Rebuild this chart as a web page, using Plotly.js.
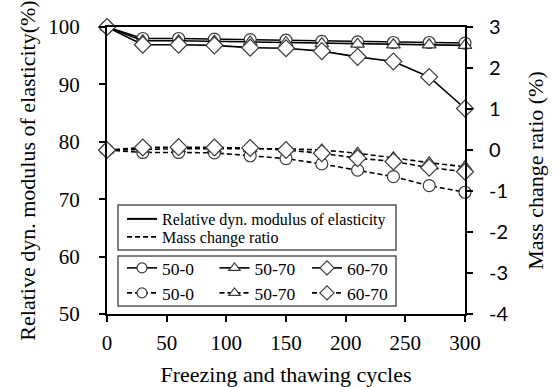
<!DOCTYPE html>
<html><head><meta charset="utf-8">
<script src="https://cdn.plot.ly/plotly-3.0.1.min.js"></script>
<style>html,body{margin:0;padding:0;background:#fff}</style>
</head><body><div id="chart" style="width:558px;height:387px"></div>
<script>
const cycles = [0, 30, 60, 90, 120, 150, 180, 210, 240, 270, 300];
const seriesNames = ['50-0', '50-70', '60-70'];
const rdm_50_0 = [100, 98.0, 98.0, 97.9, 97.8, 97.7, 97.5, 97.4, 97.3, 97.3, 97.2];
const rdm_50_70 = [100, 97.6, 97.6, 97.5, 97.4, 97.3, 97.1, 97.0, 96.9, 96.9, 96.8];
const rdm_60_70 = [100, 96.9, 96.9, 96.8, 96.4, 96.3, 95.8, 94.8, 94.0, 91.3, 85.8];
const mass_50_0 = [0, -0.06, -0.06, -0.07, -0.14, -0.21, -0.34, -0.49, -0.65, -0.87, -1.03];
const mass_50_70 = [0, 0.02, 0.03, 0.03, 0.03, 0.03, 0.0, -0.08, -0.19, -0.31, -0.41];
const mass_60_70 = [0, 0.06, 0.07, 0.06, 0.05, 0.0, -0.08, -0.2, -0.28, -0.43, -0.53];
const xTicks = [0, 50, 100, 150, 200, 250, 300];
const leftTicks = [50, 60, 70, 80, 90, 100];
const rightTicks = [-4, -3, -2, -1, 0, 1, 2, 3];
const rightTickText = ['-4', '-3', '-2', '-1', '0', '1', '2', '3'];
const legendLabels = ['Relative dyn. modulus of elasticity', 'Mass change ratio'];

const symbols = ['circle', 'triangle-up', 'diamond'];
const sizes = [12, 12, 13];
const legSizes = [10, 10, 11];
const rdm = [rdm_50_0, rdm_50_70, rdm_60_70];
const mass = [mass_50_0, mass_50_70, mass_60_70];
const DASH = '5px,3px';

function markerTrace(y, i, yaxis, dash) {
  return {
    x: cycles, y: y, name: seriesNames[i], type: 'scatter', mode: 'lines+markers',
    yaxis: yaxis, showlegend: false, cliponaxis: false,
    line: {color: '#000', width: 1.6, dash: dash},
    marker: {symbol: symbols[i], size: sizes[i], color: '#fff', line: {color: '#3a3a3a', width: 1.2}}
  };
}
function legendTrace(i, dash, legend) {
  return {
    x: [null], y: [null], name: seriesNames[i], type: 'scatter', mode: 'lines+markers', legend: legend,
    line: {color: '#000', width: 1.6, dash: dash},
    marker: {symbol: symbols[i], size: legSizes[i], color: '#fff', line: {color: '#3a3a3a', width: 1.2}}
  };
}
const traces = [];
for (let i = 0; i < 3; i++) traces.push(markerTrace(mass[i], i, 'y2', DASH));
for (let i = 0; i < 3; i++) traces.push(markerTrace(rdm[i], i, 'y', 'solid'));
for (let i = 0; i < 3; i++) traces.push(legendTrace(i, 'solid', 'legend3'));
for (let i = 0; i < 3; i++) traces.push(legendTrace(i, DASH, 'legend4'));
traces.push({x: [null], y: [null], name: legendLabels[0], mode: 'lines', legend: 'legend',
  line: {color: '#000', width: 2, dash: 'solid'}});
traces.push({x: [null], y: [null], name: legendLabels[1], mode: 'lines', legend: 'legend2',
  line: {color: '#000', width: 1.6, dash: DASH}});

const serif = 'Liberation Serif, Times New Roman, serif';
const legBase = {xanchor: 'left', yanchor: 'middle', bgcolor: 'rgba(0,0,0,0)', borderwidth: 0};
const P = (px) => (px - 107) / 358;
const Q = (py) => (314 - py) / 287;

const axisCommon = {
  showline: true, linewidth: 2, linecolor: '#000', ticks: 'outside', ticklen: 6, tickwidth: 2,
  tickcolor: '#000', showgrid: false, zeroline: false, fixedrange: true
};

const layout = {
  width: 558, height: 387,
  margin: {l: 107, r: 93, t: 27, b: 73, pad: 0},
  paper_bgcolor: '#fff', plot_bgcolor: '#fff',
  showlegend: true,
  xaxis: Object.assign({}, axisCommon, {
    range: [0, 300], tickmode: 'array', tickvals: xTicks, mirror: true,
    tickfont: {family: serif, size: 21, color: '#000'}, ticklabelstandoff: 3,
    title: {text: 'Freezing and thawing cycles', font: {family: serif, size: 22, color: '#000'}, standoff: 12}
  }),
  yaxis: Object.assign({}, axisCommon, {
    range: [50, 100], tickmode: 'array', tickvals: leftTicks,
    tickfont: {family: serif, size: 21, color: '#000'}, ticklabelstandoff: 15,
    title: {text: 'Relative dyn. modulus of elasticity(%)', font: {family: serif, size: 22, color: '#000'}, standoff: 7}
  }),
  yaxis2: Object.assign({}, axisCommon, {
    overlaying: 'y', side: 'right', range: [-4, 3], tickmode: 'array', tickvals: rightTicks, ticktext: rightTickText,
    tickfont: {family: 'Lato, Carlito, sans-serif', size: 20, color: '#000'}, ticklabelstandoff: 12,
    title: {text: 'Mass change ratio (%)', font: {family: serif, size: 22, color: '#000'}, standoff: 20}
  }),
  legend: Object.assign({}, legBase, {x: P(122), y: Q(219), orientation: 'v', font: {family: serif, size: 16, color: '#000'}}),
  legend2: Object.assign({}, legBase, {x: P(122), y: Q(237), orientation: 'v', font: {family: serif, size: 16, color: '#000'}}),
  legend3: Object.assign({}, legBase, {x: P(122), y: Q(268), orientation: 'h', entrywidth: 47.5, font: {family: serif, size: 17.5, color: '#000'}}),
  legend4: Object.assign({}, legBase, {x: P(122), y: Q(293), orientation: 'h', entrywidth: 47.5, font: {family: serif, size: 17.5, color: '#000'}}),
  shapes: [
    {type: 'rect', xref: 'paper', yref: 'paper', x0: P(118), x1: P(396), y0: Q(250), y1: Q(205), line: {color: '#555', width: 1.5}, fillcolor: 'rgba(0,0,0,0)'},
    {type: 'rect', xref: 'paper', yref: 'paper', x0: P(118), x1: P(396), y0: Q(306), y1: Q(256), line: {color: '#555', width: 1.5}, fillcolor: 'rgba(0,0,0,0)'}
  ]
};

Plotly.newPlot('chart', traces, layout, {displayModeBar: false, staticPlot: true});
</script>
</body></html>
